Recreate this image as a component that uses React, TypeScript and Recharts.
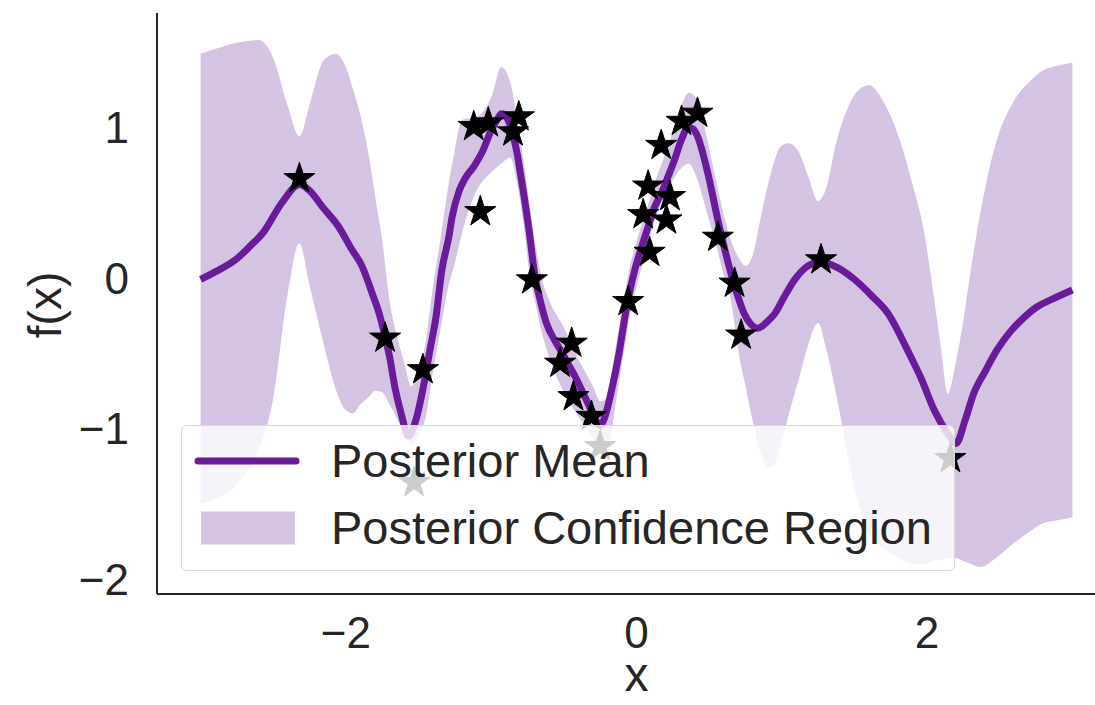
import { Area, ComposedChart, Label, Legend, Line, Scatter, XAxis, YAxis, ZAxis } from "recharts";

// confidence band, read at shared x positions
const bandX = [
  -3.0, -2.9, -2.8, -2.7, -2.6, -2.5, -2.4, -2.32, -2.25, -2.15, -2.07, -2.0, -1.95, -1.9, -1.84, -1.8,
  -1.75, -1.7, -1.65, -1.6, -1.55, -1.5, -1.45, -1.4, -1.35, -1.3, -1.25, -1.2, -1.1, -1.0, -0.93, -0.87,
  -0.82, -0.78, -0.74, -0.7, -0.65, -0.6, -0.5, -0.4, -0.3, -0.25, -0.2, -0.17, -0.15, -0.12, -0.08, -0.04,
  0.0, 0.05, 0.1, 0.15, 0.2, 0.25, 0.3, 0.36, 0.42, 0.48, 0.54, 0.6, 0.65, 0.7, 0.75, 0.8,
  0.85, 0.9, 0.95, 1.0, 1.05, 1.12, 1.18, 1.25, 1.3, 1.38, 1.45, 1.52, 1.6, 1.7, 1.8, 1.9,
  1.98, 2.05, 2.1, 2.14, 2.2, 2.25, 2.3, 2.37, 2.46, 2.6, 2.7, 2.8, 2.9, 3.0,
];
const bandLower = [
  -1.5, -1.47, -1.42, -1.31, -1.14, -0.8, -0.1, 0.23, -0.05, -0.45, -0.74, -0.88, -0.9, -0.84, -0.79, -0.75,
  -0.76, -0.84, -0.93, -1.04, -1.11, -1.05, -0.92, -0.62, -0.35, -0.08, 0.1, 0.3, 0.58, 0.7, 0.76, 0.8,
  0.62, 0.38, 0.05, -0.15, -0.37, -0.53, -0.76, -0.92, -1.06, -1.14, -1.1, -1.02, -0.88, -0.7, -0.45, -0.22,
  -0.06, 0.12, 0.3, 0.45, 0.56, 0.65, 0.72, 0.76, 0.65, 0.45, 0.25, 0.02, -0.15, -0.48, -0.72, -0.95,
  -1.15, -1.26, -1.25, -1.08, -0.9, -0.66, -0.45, -0.3, -0.45, -0.8, -1.165, -1.475, -1.7, -1.8, -1.86, -1.9,
  -1.9, -1.88, -1.87, -1.86, -1.86, -1.88, -1.9, -1.92, -1.87, -1.76, -1.69, -1.63, -1.61, -1.59,
];
const bandUpper = [
  1.49, 1.52, 1.55, 1.57, 1.58, 1.46, 1.14, 0.94, 1.15, 1.45, 1.49, 1.4, 1.25, 1.08, 0.8, 0.55,
  0.25, -0.15, -0.38, -0.56, -0.72, -0.62, -0.42, -0.05, 0.25, 0.58, 0.85, 1.05, 1.07, 1.2, 1.4, 1.3,
  1.05, 0.8, 0.52, 0.25, -0.01, -0.15, -0.33, -0.54, -0.72, -0.82, -0.8, -0.62, -0.5, -0.33, -0.1, 0.1,
  0.24, 0.4, 0.55, 0.7, 0.83, 0.97, 1.12, 1.23, 1.18, 0.95, 0.68, 0.42, 0.25, 0.14, 0.08, 0.15,
  0.38, 0.6, 0.78, 0.88, 0.895, 0.83, 0.68, 0.51, 0.58, 0.92, 1.12, 1.24, 1.28, 1.17, 0.95, 0.62,
  0.3, -0.15, -0.5, -0.77, -0.55, -0.28, 0.05, 0.45, 0.85, 1.18, 1.3, 1.38, 1.41, 1.43,
];

// posterior mean
const meanX = [
  -3.0, -2.9, -2.76, -2.65, -2.57, -2.44, -2.32, -2.25, -2.16, -2.05, -1.96, -1.89, -1.82, -1.77, -1.7, -1.66,
  -1.62, -1.57, -1.52, -1.47, -1.42, -1.38, -1.34, -1.29, -1.27, -1.22, -1.18, -1.12, -1.06, -1.0, -0.96, -0.93,
  -0.89, -0.86, -0.82, -0.8, -0.77, -0.74, -0.7, -0.66, -0.62, -0.56, -0.51, -0.46, -0.42, -0.36, -0.31, -0.25,
  -0.22, -0.17, -0.12, -0.08, -0.04, -0.01, 0.04, 0.08, 0.12, 0.17, 0.22, 0.26, 0.31, 0.355, 0.39, 0.42,
  0.49, 0.56, 0.65, 0.7, 0.74, 0.79, 0.835, 0.9, 0.95, 1.02, 1.09, 1.18, 1.27, 1.38, 1.5, 1.62,
  1.73, 1.865, 1.96, 2.05, 2.14, 2.2, 2.26, 2.32, 2.4, 2.48, 2.57, 2.67, 2.76, 2.85, 3.0,
];
const meanY = [
  -0.01, 0.04, 0.12, 0.22, 0.3, 0.5, 0.62, 0.58, 0.47, 0.34, 0.19, 0.08, -0.1, -0.24, -0.52, -0.74,
  -0.9, -1.05, -0.95, -0.74, -0.47, -0.26, 0.05, 0.28, 0.4, 0.58, 0.66, 0.74, 0.84, 0.98, 1.05, 1.09,
  1.06, 0.98, 0.82, 0.7, 0.52, 0.32, 0.02, -0.16, -0.3, -0.42, -0.5, -0.59, -0.66, -0.78, -0.88, -0.98,
  -0.93, -0.74, -0.5, -0.26, -0.06, 0.06, 0.22, 0.34, 0.46, 0.56, 0.68, 0.78, 0.92, 1.0, 0.99, 0.94,
  0.7, 0.385, 0.03, -0.13, -0.235, -0.31, -0.334, -0.29, -0.24, -0.12, -0.01, 0.08, 0.108, 0.07, -0.01, -0.12,
  -0.235, -0.48, -0.67, -0.88, -1.03, -1.1, -0.95, -0.77, -0.62, -0.48, -0.36, -0.26, -0.19, -0.146, -0.08,
];

// observations
const obsX = [
  -2.32, -1.73, -1.53, -1.47, -1.12, -1.02, -1.075, -0.85, -0.81, -0.72, -0.526, -0.446, -0.434, -0.31, -0.25,
  -0.057, 0.046, 0.08, 0.09, 0.17, 0.206, 0.23, 0.31, 0.42, 0.56, 0.675, 0.72, 1.27, 2.16,
];
const obsY = [
  0.66, -0.4, -1.36, -0.61, 1.005, 1.03, 0.44, 0.97, 1.07, -0.013, -0.567, -0.434, -0.789, -0.92, -1.12,
  -0.157, 0.42, 0.61, 0.17, 0.88, 0.385, 0.54, 1.04, 1.094, 0.27, -0.035, -0.38, 0.12, -1.2,
];

const xTicks = [-2, 0, 2];
const yTicks = [-2, -1, 0, 1];

const PURPLE = "#6a1b9a";
const BAND = "#d5c3e3";
const INK = "#262626";
const FONT = '"Liberation Sans", Arial, sans-serif';

const bandData = bandX.map((x, i) => ({ x, range: [bandLower[i], bandUpper[i]] }));
const meanData = meanX.map((x, i) => ({ x, y: meanY[i] }));
const obsData = obsX.map((x, i) => ({ x, y: obsY[i] }));

const fmt = (v: number) => (v < 0 ? `\u2212${Math.abs(v)}` : `${v}`);

function GpLegend(props: any) {
  const items = [...(props.payload ?? [])]
    .filter((p: any) => p.type !== "none")
    .sort((a: any, b: any) => (a.type === "line" ? -1 : 0) - (b.type === "line" ? -1 : 0));
  return (
    <div
      style={{
        position: "relative",
        boxSizing: "border-box",
        width: 774,
        height: 146,
        background: "rgba(255,255,255,0.8)",
        border: "1.5px solid #d8d8d8",
        borderRadius: 6,
        fontFamily: FONT,
      }}
    >
      {items.map((item: any, i: number) => (
        <div key={item.value} style={{ position: "absolute", left: 0, top: i === 0 ? 5 : 72, height: 60, width: 770 }}>
          <svg width={120} height={60} style={{ position: "absolute", left: 12, top: 0 }}>
            {item.type === "line" ? (
              <line x1={4} x2={102} y1={30} y2={30} stroke={PURPLE} strokeWidth={7} strokeLinecap="round" />
            ) : (
              <rect x={7} y={13.5} width={94} height={33} fill={BAND} />
            )}
          </svg>
          <span style={{ position: "absolute", left: 149, top: 0, lineHeight: "60px", fontSize: 47, color: INK, whiteSpace: "nowrap" }}>
            {item.value}
          </span>
        </div>
      ))}
    </div>
  );
}

export default function App() {
  return (
    <div style={{ position: "fixed", left: 0, top: 0, width: 1095, height: 705, overflow: "hidden", background: "#fff" }}>
      <ComposedChart width={1130} height={705} margin={{ top: 13, right: 14, bottom: 0, left: 0 }} style={{ fontFamily: FONT }}>
        <XAxis
          type="number"
          dataKey="x"
          domain={[-3.3, 3.3]}
          ticks={xTicks}
          allowDataOverflow
          height={111}
          tickLine={false}
          tickSize={0}
          tickMargin={23}
          axisLine={{ stroke: INK, strokeWidth: 2 }}
          tick={{ fill: INK, fontSize: 44, fontFamily: FONT }}
          tickFormatter={fmt}
        >
          <Label value="x" position="insideBottom" offset={14} style={{ fontSize: 48, fill: INK, fontFamily: FONT }} />
        </XAxis>
        <YAxis
          type="number"
          dataKey="y"
          domain={[-2.1, 1.76]}
          ticks={yTicks}
          allowDataOverflow
          width={157}
          tickLine={false}
          tickSize={0}
          tickMargin={28}
          axisLine={{ stroke: INK, strokeWidth: 2 }}
          tick={{ fill: INK, fontSize: 44, fontFamily: FONT }}
          tickFormatter={fmt}
        >
          <Label
            content={() => (
              <text
                x={45}
                y={305}
                transform="rotate(-90 45 305)"
                textAnchor="middle"
                dy="0.35em"
                fontSize={46}
                fill={INK}
                fontFamily={FONT}
              >
                f(x)
              </text>
            )}
          />
        </YAxis>
        <ZAxis range={[300, 300]} />
        <Area
          data={bandData}
          dataKey="range"
          type="monotone"
          fill={BAND}
          fillOpacity={1}
          stroke="none"
          name="Posterior Confidence Region"
          legendType="square"
          isAnimationActive={false}
        />
        <Line
          data={meanData}
          dataKey="y"
          type="monotone"
          stroke={PURPLE}
          strokeWidth={7}
          dot={false}
          activeDot={false}
          name="Posterior Mean"
          legendType="line"
          isAnimationActive={false}
        />
        <Scatter
          data={obsData}
          dataKey="y"
          shape="star"
          fill="#000"
          stroke="#000"
          strokeWidth={1}
          legendType="none"
          isAnimationActive={false}
        />
        <Legend
          layout="vertical"
          align="center"
          verticalAlign="middle"
          content={GpLegend}
          wrapperStyle={{ left: 181, top: 425, width: 774, height: 146 }}
        />
      </ComposedChart>
    </div>
  );
}
